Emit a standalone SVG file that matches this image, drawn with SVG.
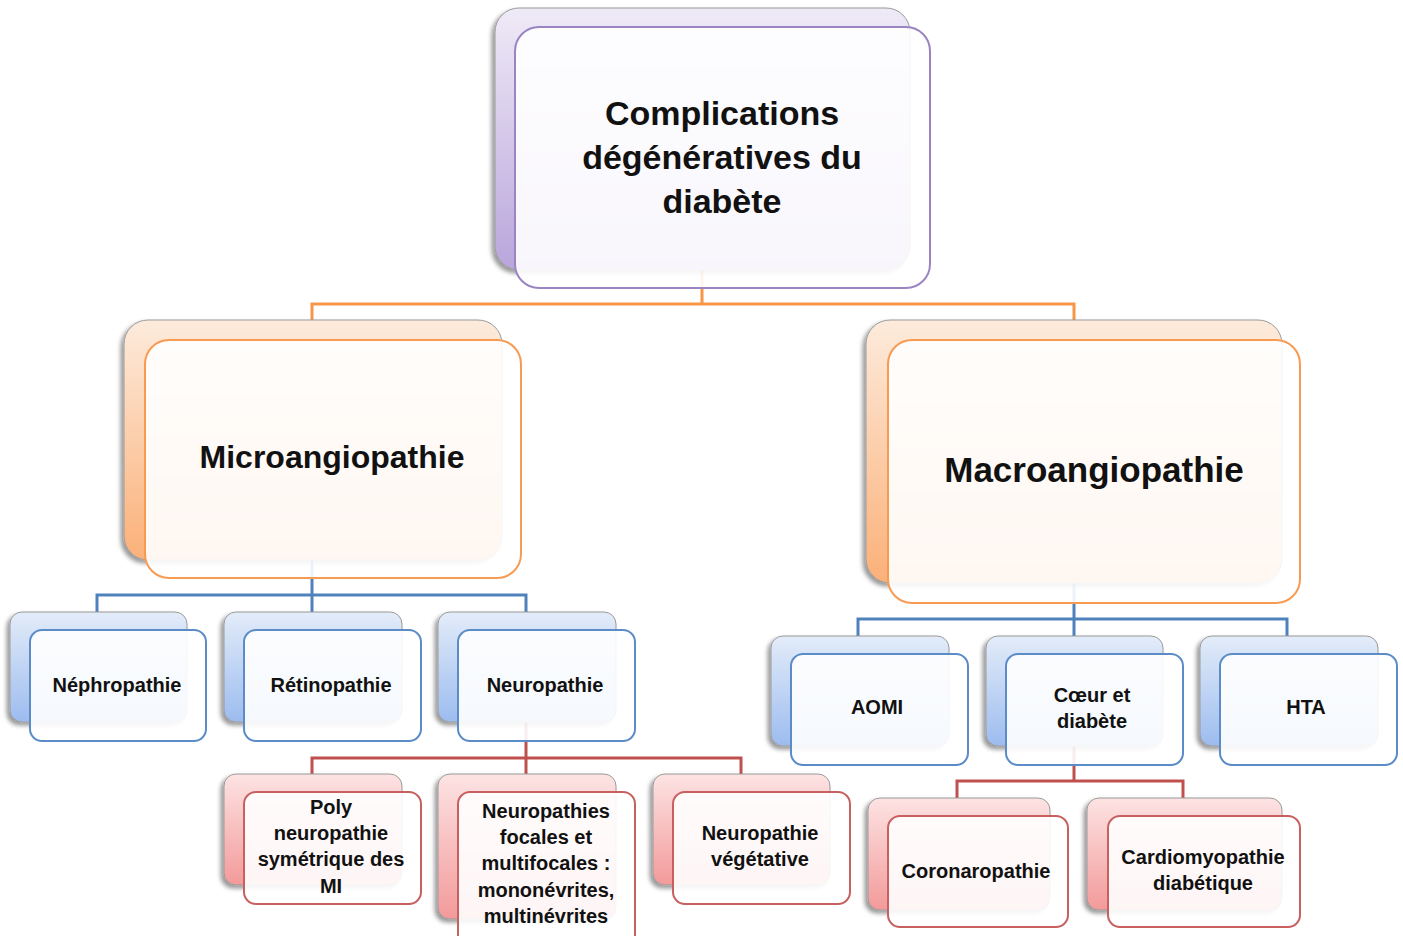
<svg xmlns="http://www.w3.org/2000/svg" width="1403" height="936" viewBox="0 0 1403 936">
<defs>
<linearGradient id="gP" x1="0" y1="0" x2="0" y2="1"><stop offset="0" stop-color="#efeaf7"/><stop offset="1" stop-color="#b9a5db"/></linearGradient>
<linearGradient id="gO" x1="0" y1="0" x2="0" y2="1"><stop offset="0" stop-color="#fdebdc"/><stop offset="1" stop-color="#fbb078"/></linearGradient>
<linearGradient id="gB" x1="0" y1="0" x2="0" y2="1"><stop offset="0" stop-color="#e3ecf9"/><stop offset="1" stop-color="#9cbcef"/></linearGradient>
<linearGradient id="gR" x1="0" y1="0" x2="0" y2="1"><stop offset="0" stop-color="#fde3e3"/><stop offset="1" stop-color="#f39a9a"/></linearGradient>
<filter id="sh" x="-10%" y="-10%" width="120%" height="125%"><feDropShadow dx="-3" dy="3" stdDeviation="2" flood-color="#000" flood-opacity="0.4"/></filter>
</defs>
<style>
.back{stroke:#9a9a9a;stroke-width:1;filter:url(#sh)}
.front{fill:#ffffff;fill-opacity:0.9;stroke-width:2}
.fp{stroke:#9a85c2}.fo{stroke:#f79a52}.fb{stroke:#5b8cc8}.fr{stroke:#c86060}
.t{font-family:"Liberation Sans",Arial,sans-serif;font-weight:bold;fill:#111;text-anchor:middle}
.t34{font-size:34px}.t20{font-size:20px}
.c{fill:none;stroke-width:3}
.co{stroke:#f79646}.cb{stroke:#4f81bd}.cr{stroke:#c0504d}
</style>
<rect width="1403" height="936" fill="#ffffff"/>
<g id="connectors">
<path class="c co" d="M702 270V304M312 304H1074M312 302.5V320M1074 302.5V320"/>
<path class="c cb" d="M312 560V595M97 595H526M97 593.5V612M312 593.5V612M526 593.5V612"/>
<path class="c cr" d="M526 722V758M312 758H741M312 756.5V774M526 756.5V774M741 756.5V774"/>
<path class="c cb" d="M1074 583V619M858 619H1287M858 617.5V636M1074 617.5V636M1287 617.5V636"/>
<path class="c cr" d="M1074 746V781M957 781H1183M957 779.5V798M1183 779.5V798"/>
</g>
<g id="root">
<rect class="back" x="495" y="8" width="415" height="262" rx="24" fill="url(#gP)"/>
<rect class="front fp" x="515" y="27" width="415" height="261" rx="24"/>
<text class="t t34" x="722" y="125">Complications</text>
<text class="t t34" x="722" y="169">dégénératives du</text>
<text class="t t34" x="722" y="213">diabète</text>
</g>
<g id="micro">
<rect class="back" x="124" y="320" width="378" height="240" rx="24" fill="url(#gO)"/>
<rect class="front fo" x="145" y="340" width="376" height="238" rx="24"/>
<text class="t" style="font-size:32px" x="332" y="468">Microangiopathie</text>
</g>
<g id="macro">
<rect class="back" x="866" y="320" width="416" height="263" rx="24" fill="url(#gO)"/>
<rect class="front fo" x="888" y="340" width="412" height="263" rx="24"/>
<text class="t" style="font-size:35px" x="1094" y="482">Macroangiopathie</text>
</g>
<g id="nephro">
<rect class="back" x="10" y="612" width="177" height="110" rx="12" fill="url(#gB)"/>
<rect class="front fb" x="30" y="630" width="176" height="111" rx="12"/>
<text class="t t20" x="117" y="692">Néphropathie</text>
</g>
<g id="retino">
<rect class="back" x="224" y="612" width="178" height="110" rx="12" fill="url(#gB)"/>
<rect class="front fb" x="244" y="630" width="177" height="111" rx="12"/>
<text class="t t20" x="331" y="692">Rétinopathie</text>
</g>
<g id="neuro">
<rect class="back" x="438" y="612" width="178" height="110" rx="12" fill="url(#gB)"/>
<rect class="front fb" x="458" y="630" width="177" height="111" rx="12"/>
<text class="t t20" x="545" y="692">Neuropathie</text>
</g>
<g id="poly">
<rect class="back" x="224" y="774" width="178" height="111" rx="12" fill="url(#gR)"/>
<rect class="front fr" x="244" y="792" width="177" height="112" rx="12"/>
<text class="t t20" x="331" y="814">Poly</text>
<text class="t t20" x="331" y="840">neuropathie</text>
<text class="t t20" x="331" y="866">symétrique des</text>
<text class="t t20" x="331" y="893">MI</text>
</g>
<g id="focales">
<rect class="back" x="438" y="774" width="178" height="145" rx="12" fill="url(#gR)"/>
<rect class="front fr" x="458" y="792" width="177" height="160" rx="12"/>
<text class="t t20" x="546" y="818">Neuropathies</text>
<text class="t t20" x="546" y="844">focales et</text>
<text class="t t20" x="546" y="870">multifocales :</text>
<text class="t t20" x="546" y="897">mononévrites,</text>
<text class="t t20" x="546" y="923">multinévrites</text>
</g>
<g id="vegetative">
<rect class="back" x="653" y="774" width="177" height="111" rx="12" fill="url(#gR)"/>
<rect class="front fr" x="673" y="792" width="177" height="112" rx="12"/>
<text class="t t20" x="760" y="840">Neuropathie</text>
<text class="t t20" x="760" y="866">végétative</text>
</g>
<g id="aomi">
<rect class="back" x="771" y="636" width="178" height="110" rx="12" fill="url(#gB)"/>
<rect class="front fb" x="791" y="654" width="177" height="111" rx="12"/>
<text class="t t20" x="877" y="714">AOMI</text>
</g>
<g id="coeur">
<rect class="back" x="986" y="636" width="177" height="110" rx="12" fill="url(#gB)"/>
<rect class="front fb" x="1006" y="654" width="177" height="111" rx="12"/>
<text class="t t20" x="1092" y="702">Cœur et</text>
<text class="t t20" x="1092" y="728">diabète</text>
</g>
<g id="hta">
<rect class="back" x="1200" y="636" width="178" height="110" rx="12" fill="url(#gB)"/>
<rect class="front fb" x="1220" y="654" width="177" height="111" rx="12"/>
<text class="t t20" x="1306" y="714">HTA</text>
</g>
<g id="corona">
<rect class="back" x="868" y="798" width="182" height="112" rx="12" fill="url(#gR)"/>
<rect class="front fr" x="888" y="816" width="180" height="111" rx="12"/>
<text class="t t20" x="976" y="878">Coronaropathie</text>
</g>
<g id="cardio">
<rect class="back" x="1087" y="798" width="195" height="112" rx="12" fill="url(#gR)"/>
<rect class="front fr" x="1108" y="816" width="192" height="111" rx="12"/>
<text class="t t20" x="1203" y="864">Cardiomyopathie</text>
<text class="t t20" x="1203" y="890">diabétique</text>
</g>
</svg>
